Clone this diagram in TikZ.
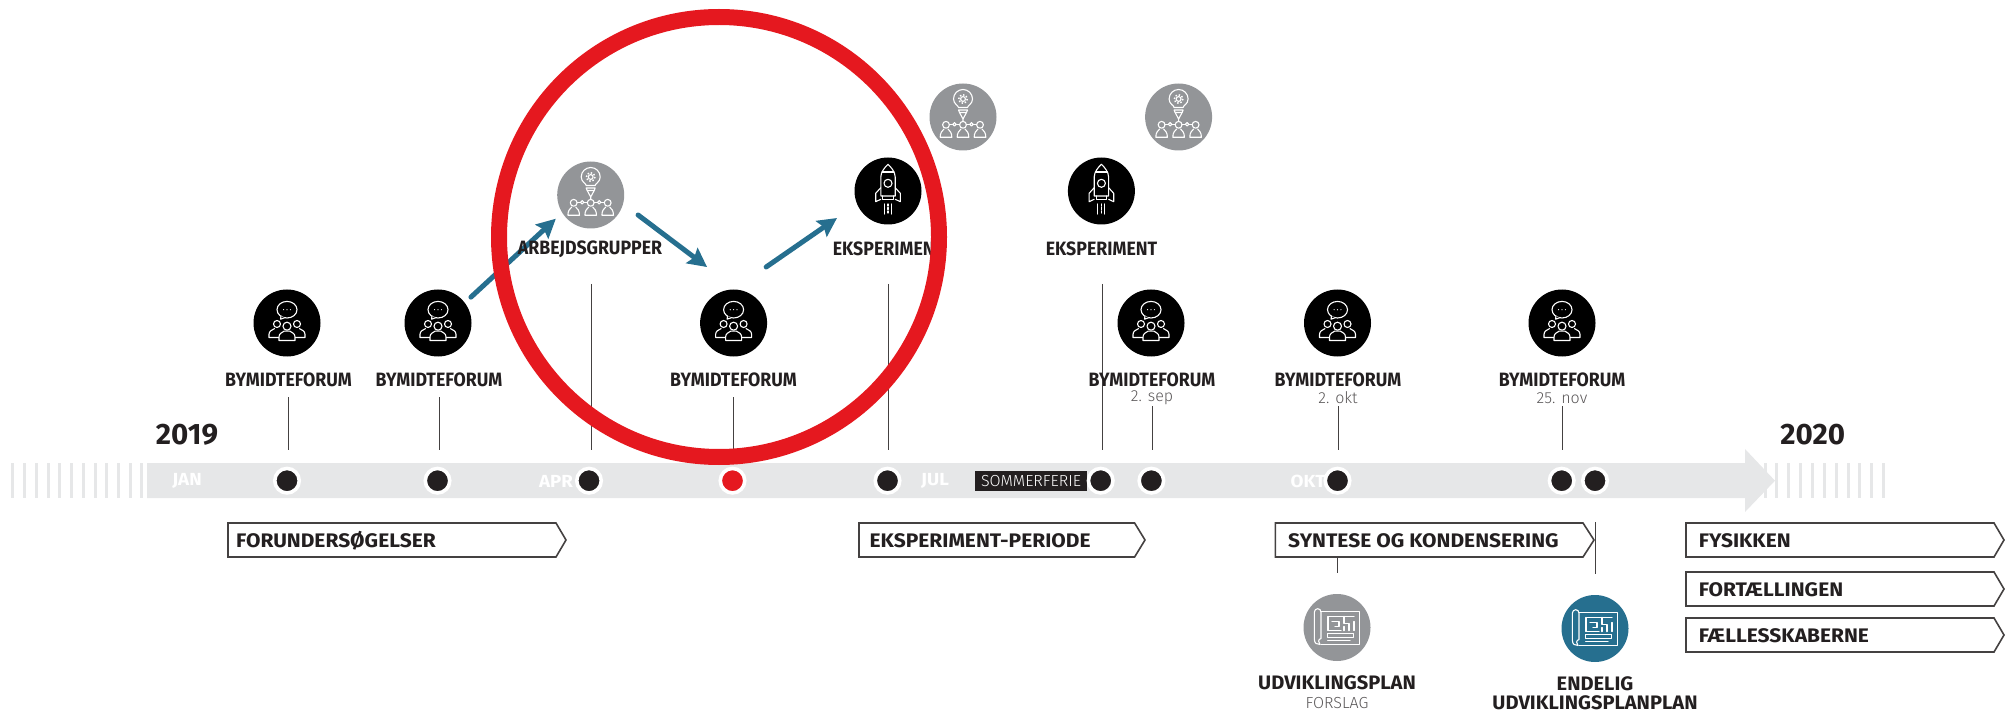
\documentclass[tikz,border=0pt]{standalone}
\usepackage{fontspec}
\usetikzlibrary{arrows.meta,calc}
\setmainfont{Fira Sans}
\newfontfamily\labfont[FakeStretch=0.92]{Fira Sans Bold}
\newfontfamily\planfont[FakeStretch=1.03]{Fira Sans Bold}
\newfontfamily\boxfont[FakeStretch=1.07]{Fira Sans Bold}
\newfontfamily\yearfont[FakeStretch=1.0]{Fira Sans Bold}
\newfontfamily\thinfont{Fira Sans Light}
\definecolor{ink}{HTML}{231F20}
\definecolor{barc}{HTML}{E6E7E8}
\definecolor{midgray}{HTML}{939598}
\definecolor{teal}{HTML}{266F8F}
\definecolor{redc}{HTML}{E5181F}
\tikzset{
 disc/.style={circle,minimum size=67pt,inner sep=0pt,outer sep=0pt,fill=#1},
 lab/.style={font=\labfont\fontsize{19.3}{21}\selectfont,text=ink,inner sep=0pt},
 planlab/.style={font=\planfont\fontsize{19.5}{21}\selectfont,text=ink,inner sep=0pt},
 boxtxt/.style={font=\boxfont\fontsize{19.6}{22}\selectfont,text=ink,inner sep=0pt,anchor=west},
 year/.style={font=\yearfont\fontsize{29.5}{31}\selectfont,text=ink,inner sep=0pt},
 month/.style={font=\boxfont\fontsize{17.5}{20}\selectfont,text=white,inner sep=0pt},
 sub/.style={font=\thinfont\fontsize{16}{18}\selectfont,text=ink!75,inner sep=0pt},
 leader/.style={draw=ink!85,line width=1pt},
 dotn/.style={circle,inner sep=0pt,outer sep=0pt,fill=#1,draw=white,line width=3.6pt,minimum size=24.5pt},
 pbox/.style={draw=ink!85,line width=1.6pt,fill=white,line join=miter},
 flow/.style={draw=teal,line width=5pt,line cap=round,-{Stealth[length=19pt,width=19pt,inset=3pt]}},
 ico/.style={draw=white,line width=1.1pt,line join=round,line cap=round},
 forumicon/.pic={
  \draw[ico] (0,-13.3) ellipse[x radius=10,y radius=8.3];
  \draw[ico,fill=black] (-6,-7) -- (-6.5,-3.8) -- (-2.5,-5.2);
  \fill[white] (-3.4,-13.3) circle[radius=.6] (0,-13.3) circle[radius=.6] (3.4,-13.3) circle[radius=.6];
  \draw[ico] (-10,1) circle[radius=3.5] (10,1) circle[radius=3.5] (0,3.2) circle[radius=4];
  \draw[ico] (-8.5,14.5) -- (-18,14.5) -- (-18,11.5) .. controls (-18,8) and (-15,7) .. (-12.5,5.6);
  \draw[ico] (8.5,14.5) -- (18,14.5) -- (18,11.5) .. controls (18,8) and (15,7) .. (12.5,5.6);
  \draw[ico] (-8,17.5) -- (8,17.5) -- (8,14) .. controls (8,10.5) and (5,9.5) .. (3,8.2) -- (-3,8.2) .. controls (-5,9.5) and (-8,10.5) .. (-8,14) -- cycle;
 },
 ideaicon/.pic={
  \draw[ico] (-4.5,-9.5) .. controls (-4.5,-11.5) and (-9.5,-13) .. (-9.5,-18) arc[start angle=180,end angle=360,radius=9.5] .. controls (9.5,-13) and (4.5,-11.5) .. (4.5,-9.5) -- cycle;
  \draw[ico] (0,-18) circle[radius=2.4];
  \draw[ico,line width=1.5pt,line cap=butt,dash pattern=on 1.5pt off 1.8pt] (0,-18) circle[radius=4.3];
  \draw[ico] (-4.5,-7) -- (4.5,-7) -- (3.5,-4.5) -- (-3.5,-4.5) -- cycle;
  \draw[ico] (-3.5,-4.5) -- (0,2) -- (3.5,-4.5) (0,2) -- (0,4.2);
  \draw[ico] (-17,7.8) circle[radius=3.4] (17,7.8) circle[radius=3.4] (0,7.8) circle[radius=3.4];
  \draw[ico] (-13.6,7.3) -- (-3.4,7.3) (3.4,7.3) -- (13.6,7.3);
  \draw[ico,fill=midgray] (-8.5,7.3) circle[radius=1.7] (8.5,7.3) circle[radius=1.7];
  \foreach \dx in {-17,0,17}{
   \draw[ico,xshift=\dx pt] (-5.8,20.3) -- (5.8,20.3) .. controls (5.8,15.5) and (3.8,13.8) .. (2,12) (-2,12) .. controls (-3.8,13.8) and (-5.8,15.5) .. (-5.8,20.3);
  }
 },
 rocketicon/.pic={
  \draw[ico] (-7.2,5) -- (-7.2,-14) .. controls (-7.2,-19) and (-3,-24) .. (0,-26.7) .. controls (3,-24) and (7.2,-19) .. (7.2,-14) -- (7.2,5) -- cycle;
  \draw[ico] (-6,-19) -- (6,-19);
  \draw[ico] (0,-7.7) circle[radius=4];
  \draw[ico] (-7.2,-3.3) -- (-12.3,2.3) -- (-12.3,10.7) -- (-7.2,8.3);
  \draw[ico] (7.2,-3.3) -- (12.3,2.3) -- (12.3,10.7) -- (7.2,8.3);
  \draw[ico] (-5.3,5) -- (-5.3,8.3) -- (5.3,8.3) -- (5.3,5);
  \draw[ico] (-3.5,13) -- (-3.5,23) (3.5,13) -- (3.5,23);
  \draw[ico,dash pattern=on 2pt off 1.5pt] (0,13) -- (0,23);
 },
 planicon/.pic={
  \draw[ico] (-16,-16) -- (22.7,-16) -- (22.7,17) -- (-16,17);
  \draw[ico] (-16,11) -- (-16,-15.5) arc[start angle=0,end angle=-180,radius=3.3] -- (-22.6,12) .. controls (-22.6,16) and (-20,17) .. (-17,17) .. controls (-19,15.5) and (-19,11.5) .. (-16,11);
  \draw[ico] (-9,-11) -- (17,-11) (17,-6) -- (17,3) (-9,3) -- (-9,-11) (-9,3) -- (4,3);
  \draw[ico,line width=1.5pt] (-5,-6) -- (2,-6) -- (2,-1) -- (-2,-1) (7,-11) -- (7,-4) -- (12,-4) -- (12,3) (7,3) -- (7,-1);
  \draw[ico] (-9.3,6) -- (16.7,6) -- (16.7,10) -- (-9.3,10) -- cycle;
  \draw[ico] (-9.3,13.3) -- (13,13.3);
 },
}
\begin{document}
\begin{tikzpicture}[x=1pt,y=-1pt]
\useasboundingbox (0,0) rectangle (2011,713.5);
% stripes
\foreach \sx in {11,22.5,34.5,46.5,58,70,81.5,93.5,105,117,128.5,139.5}
  \fill[barc] (\sx,463) rectangle ++(3.4,35);
\foreach \sx in {1763.5,1775,1787,1799,1810.5,1822.5,1834.5,1846.5,1858,1870,1881.5}
  \fill[barc] (\sx,463) rectangle ++(3.2,35);
% timeline arrow
\fill[barc] (147,463) -- (1745,463) -- (1745,449) -- (1775,480.7) -- (1745,512) -- (1745,498) -- (147,498) -- cycle;
% leaders
\draw[leader] (288,397) coordinate (l1a) -- (288,450) coordinate (l1b);
\draw[leader] (439,397) coordinate (l2a) -- (439,450) coordinate (l2b);
\draw[leader] (591,284) coordinate (l3a) -- (591,450) coordinate (l3b);
\draw[leader] (733.5,397) coordinate (l4a) -- (733.5,450) coordinate (l4b);
\draw[leader] (888.5,284) coordinate (l5a) -- (888.5,450) coordinate (l5b);
\draw[leader] (1102,284) coordinate (l6a) -- (1102,450) coordinate (l6b);
\draw[leader] (1152,406) coordinate (l7a) -- (1152,450) coordinate (l7b);
\draw[leader] (1338,406) coordinate (l8a) -- (1338,450) coordinate (l8b);
\draw[leader] (1562,406) coordinate (l9a) -- (1562,450) coordinate (l9b);
% months
\node[month] (jan) at (187,481) {JAN};
\node[month] (apr) at (556,481) {APR};
\node[month] (jul) at (935,481) {JUL};
\node[month] (okt) at (1308,481) {OKT};
\node[fill=ink,minimum width=112pt,minimum height=20pt,inner sep=0pt,text=white,font=\thinfont\fontsize{16}{18}\selectfont] (sommer) at (1031,481) {SOMMERFERIE};
% dots
\node[dotn=ink] (d1) at (287,480.7) {};
\node[dotn=ink] (d2) at (437.5,480.7) {};
\node[dotn=ink] (d3) at (589,480.7) {};
\node[dotn=redc] (d4) at (732.5,480.7) {};
\node[dotn=ink] (d5) at (887.5,480.7) {};
\node[dotn=ink] (d6) at (1100.7,480.7) {};
\node[dotn=ink] (d7) at (1151.4,480.7) {};
\node[dotn=ink] (d8) at (1337.5,480.7) {};
\node[dotn=ink] (d9) at (1561.7,480.7) {};
\node[dotn=ink] (d10) at (1595,480.7) {};
% discs
\node[disc=black] (f1) at (287,323) {};
\node[disc=black] (f2) at (438,323) {};
\node[disc=black] (f3) at (733.6,323) {};
\node[disc=black] (f4) at (1151,323) {};
\node[disc=black] (f5) at (1337.5,323) {};
\node[disc=black] (f6) at (1562,323) {};
\node[disc=midgray] (g1) at (590.7,195) {};
\node[disc=midgray] (g2) at (963,117) {};
\node[disc=midgray] (g3) at (1178.6,117) {};
\node[disc=black] (r1) at (888,191) {};
\node[disc=black] (r2) at (1101.4,191) {};
\node[disc=midgray] (p1) at (1337,627.5) {};
\node[disc=teal] (p2) at (1595,628.5) {};
\foreach \n in {f1,f2,f3,f4,f5,f6} \path (\n) pic {forumicon};
\foreach \n in {g1,g2,g3} \path (\n) pic {ideaicon};
\foreach \n in {r1,r2} \path (\n) pic {rocketicon};
\foreach \n in {p1,p2} \path (\n) pic {planicon};
% flow arrows
\draw[flow,shorten <=8.4pt,shorten >=8.8pt] (f2.37) -- (g1.212);
\draw[flow,shorten <=18.8pt,shorten >=37.6pt] (g1.-15) -- (f3.84);
\draw[flow,shorten <=39.6pt,shorten >=24.5pt] (f3.90) -- (r1.203);
% labels
\node[lab] (tf1) at (288.5,380) {BYMIDTEFORUM};
\node[lab] (tf2) at (439,380) {BYMIDTEFORUM};
\node[lab] (tf3) at (733.5,380) {BYMIDTEFORUM};
\node[lab] (tf4) at (1152,380) {BYMIDTEFORUM};
\node[lab] (tf5) at (1338,380) {BYMIDTEFORUM};
\node[lab] (tf6) at (1562,380) {BYMIDTEFORUM};
\node[lab] (tg1) at (590,249) {ARBEJDSGRUPPER};
\node[lab] (tr1) at (888.5,249) {EKSPERIMENT};
\node[lab] (tr2) at (1101.5,249) {EKSPERIMENT};
\node[sub] (s4) at (1152,398) {2. sep};
\node[sub] (s5) at (1338,398) {2. okt};
\node[sub] (s6) at (1562,398) {25. nov};
\node[year] (y19) at (187,435) {2019};
\node[year] (y20) at (1812.7,435) {2020};
% phase boxes
\draw[pbox] (228,523) -- (556,523) -- (566,540) -- (556,557) -- (228,557) -- cycle;
\node[boxtxt] (b1) at (236,541) {FORUNDERSØGELSER};
\draw[pbox] (859,523) -- (1134.6,523) -- (1145,540) -- (1134.6,557) -- (859,557) -- cycle;
\node[boxtxt] (b2) at (869.5,541) {EKSPERIMENT-PERIODE};
\draw[pbox] (1275.4,523) -- (1583,523) -- (1594,540) -- (1583,557) -- (1275.4,557) -- cycle;
\node[boxtxt] (b3) at (1288,541) {SYNTESE OG KONDENSERING};
\draw[pbox] (1686,523) -- (1994,523) -- (2004,540) -- (1994,557) -- (1686,557) -- cycle;
\node[boxtxt] (b4) at (1698.7,541) {FYSIKKEN};
\draw[pbox] (1686,572) -- (1994,572) -- (2004,589) -- (1994,606) -- (1686,606) -- cycle;
\node[boxtxt] (b5) at (1698.7,590) {FORTÆLLINGEN};
\draw[pbox] (1686,618) -- (1994,618) -- (2004,635) -- (1994,652) -- (1686,652) -- cycle;
\node[boxtxt] (b6) at (1698.7,636) {FÆLLESSKABERNE};
\draw[leader] (1337,557) coordinate (l10a) -- (1337,573) coordinate (l10b);
\draw[leader] (1595,522) coordinate (l11a) -- (1595,574) coordinate (l11b);
\node[planlab] (tp1) at (1337,683) {UDVIKLINGSPLAN};
\node[sub] (tp1s) at (1337,703) {FORSLAG};
\node[planlab] (tp2a) at (1595,684) {ENDELIG};
\node[planlab] (tp2b) at (1595,703) {UDVIKLINGSPLANPLAN};
% red ring
\node[circle,draw=redc,line width=16pt,minimum size=440pt,inner sep=0pt,outer sep=0pt] (ring) at (719,237) {};
\end{tikzpicture}
\end{document}
